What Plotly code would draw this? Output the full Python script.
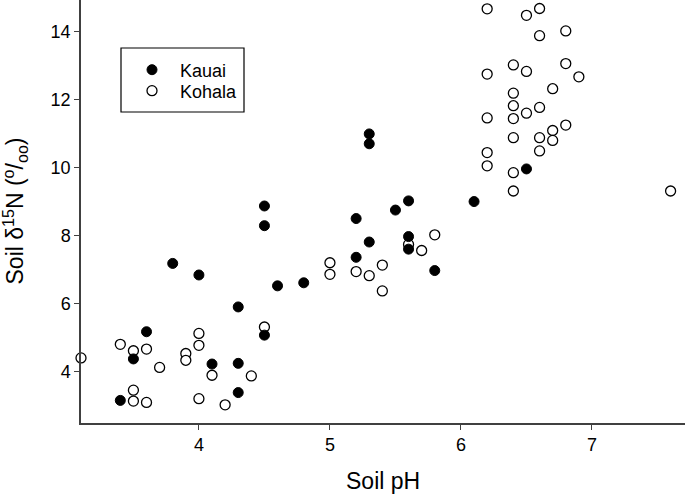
import plotly.graph_objects as go

# Kauai (filled)
kauai_ph = [3.4, 3.5, 3.6, 3.8, 4.0, 4.6, 4.3, 4.5, 4.1, 4.3, 4.3, 4.5, 4.5, 4.8,
            5.3, 5.3, 5.6, 5.5, 5.2, 6.1, 5.3, 5.6, 5.6, 5.2, 5.8, 6.5]
kauai_d15n = [3.15, 4.37, 5.17, 7.18, 6.84, 6.52, 5.90, 5.07, 4.22, 4.24, 3.38, 8.87, 8.29, 6.61,
              10.99, 10.70, 9.02, 8.75, 8.50, 9.00, 7.81, 7.97, 7.60, 7.36, 6.97, 9.96]

# Kohala (open)
kohala_ph = [3.1, 3.4, 3.5, 3.6, 3.7, 3.9, 3.9, 4.0, 4.0, 3.5, 3.5, 3.6, 4.0, 4.5, 4.1, 4.4, 4.2,
             5.0, 5.0, 5.6, 5.8, 5.7, 5.2, 5.3, 5.4, 5.4,
             6.2, 6.5, 6.6, 6.6, 6.8, 6.4, 6.5, 6.8, 6.9, 6.2, 6.4, 6.7, 6.4, 6.5,
             6.6, 6.2, 6.4, 6.8, 6.7, 6.7, 6.4, 6.6, 6.6, 6.2, 6.2, 6.4, 6.4, 7.6]
kohala_d15n = [4.40, 4.80, 4.61, 4.66, 4.12, 4.53, 4.33, 5.12, 4.77, 3.45, 3.13, 3.09, 3.20, 5.31, 3.89, 3.87, 3.02,
               7.20, 6.86, 7.74, 8.02, 7.56, 6.94, 6.82, 7.13, 6.37,
               14.67, 14.48, 14.68, 13.88, 14.02, 13.02, 12.83, 13.06, 12.67, 12.75, 12.19, 12.32, 11.82, 11.60,
               11.77, 11.46, 11.44, 11.25, 11.09, 10.80, 10.88, 10.88, 10.49, 10.44, 10.05, 9.85, 9.31, 9.31]

x_ticks = [4, 5, 6, 7]
y_ticks = [4, 6, 8, 10, 12, 14]

FONT = "Liberation Sans, Arial, sans-serif"
AXIS_COLOR = "#404040"

fig = go.Figure()
fig.add_trace(go.Scatter(
    x=kohala_ph, y=kohala_d15n, mode="markers", name="Kohala", legend="legend2",
    marker=dict(symbol="circle", size=10, color="white", line=dict(color="black", width=1.3)),
    cliponaxis=False,
))
fig.add_trace(go.Scatter(
    x=kauai_ph, y=kauai_d15n, mode="markers", name="Kauai", legend="legend",
    marker=dict(symbol="circle", size=10, color="black", line=dict(color="black", width=1)),
    cliponaxis=False,
))

leg_common = dict(
    x=(124 - 81) / 604, xanchor="left", yanchor="middle",
    borderwidth=0, bgcolor="rgba(0,0,0,0)", itemwidth=46,
    font=dict(size=18, family=FONT),
)

fig.update_layout(
    width=685, height=495,
    margin=dict(l=81, r=0, t=0, b=72),
    paper_bgcolor="white", plot_bgcolor="white",
    font=dict(family=FONT, color="black", size=18),
    showlegend=True,
    legend=dict(y=1 - 70 / 423, **leg_common),
    legend2=dict(y=1 - 91 / 423, **leg_common),
    shapes=[dict(
        type="rect", xref="paper", yref="paper",
        x0=(121 - 81) / 604, x1=(244 - 81) / 604,
        y0=1 - 112 / 423, y1=1 - 48 / 423,
        line=dict(color="black", width=1.2), fillcolor="rgba(0,0,0,0)", layer="below",
    )],
    xaxis=dict(
        range=[3.1, 7.71], tickvals=x_ticks, ticks="outside", ticklen=5,
        tickcolor=AXIS_COLOR, showline=True, linecolor=AXIS_COLOR, linewidth=1.5,
        showgrid=False, zeroline=False, tickfont=dict(size=18), automargin=False,
    ),
    yaxis=dict(
        range=[2.485, 14.93], tickvals=y_ticks, ticks="outside", ticklen=5,
        tickcolor=AXIS_COLOR, showline=True, linecolor=AXIS_COLOR, linewidth=1.5,
        showgrid=False, zeroline=False, tickfont=dict(size=18), automargin=False,
    ),
    annotations=[
        dict(text="Soil pH", xref="paper", yref="paper", x=0.5, y=(423 - 481) / 423,
             xanchor="center", yanchor="middle", showarrow=False, font=dict(size=23)),
        dict(text="Soil δ<sup>15</sup>N (<sup>o</sup>/<sub>oo</sub>)", xref="paper", yref="paper",
             x=(14 - 81) / 604, y=0.5, xanchor="center", yanchor="middle", textangle=-90,
             showarrow=False, font=dict(size=23)),
    ],
)

fig.write_html("out.html", config={"displayModeBar": False},
               post_script="document.body.style.margin='0';")
